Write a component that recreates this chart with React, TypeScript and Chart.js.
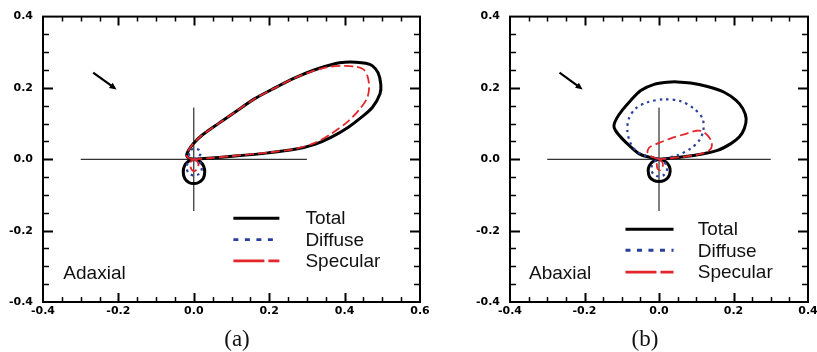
import React, { useEffect, useRef } from "react";
import { Chart, registerables } from "chart.js";

Chart.register(...registerables);

type P = [number, number];

// ---------- tick values ----------
const xTicksA = [-0.4, -0.2, 0, 0.2, 0.4, 0.6];
const xTicksB = [-0.4, -0.2, 0, 0.2, 0.4];
const yTicks = [-0.4, -0.2, 0, 0.2, 0.4];
const seriesNames = ["Total", "Diffuse", "Specular"];
const panelLabels = ["Adaxial", "Abaxial"];
const captions = ["(a)", "(b)"];

// ---------- (a) Adaxial ----------
const adaxialTotalLobe: P[] = [
  [0, 0], [-0.012, 0.003], [-0.019, 0.011], [-0.013, 0.027], [-0.002, 0.043], [0.02, 0.066],
  [0.065, 0.1], [0.109, 0.132], [0.162, 0.17], [0.215, 0.2], [0.268, 0.228], [0.321, 0.251],
  [0.374, 0.268], [0.401, 0.272], [0.43, 0.272], [0.456, 0.269], [0.474, 0.262], [0.489, 0.242],
  [0.496, 0.21], [0.494, 0.184], [0.474, 0.146], [0.445, 0.118], [0.41, 0.09], [0.365, 0.062],
  [0.321, 0.042], [0.268, 0.028], [0.197, 0.018], [0.109, 0.009], [0.038, 0.003], [0, 0],
];
const adaxialTotalLoop: P[] = [
  [0, 0], [0.016, -0.006], [0.026, -0.019], [0.029, -0.036], [0.025, -0.054], [0.013, -0.065],
  [0, -0.068], [-0.013, -0.065], [-0.024, -0.054], [-0.028, -0.036], [-0.025, -0.019], [-0.015, -0.006], [0, 0],
];
const adaxialDiffuseUp: P[] = [
  [0, 0], [0.012, 0.006], [0.018, 0.016], [0.014, 0.026], [0.004, 0.03], [-0.007, 0.027],
  [-0.013, 0.018], [-0.01, 0.007], [0, 0],
];
const adaxialDiffuseLow: P[] = [
  [0, 0], [0.014, -0.006], [0.021, -0.02], [0.019, -0.035], [0.009, -0.044], [-0.003, -0.045],
  [-0.014, -0.038], [-0.019, -0.024], [-0.015, -0.009], [0, 0],
];
const adaxialSpecularLobe: P[] = [
  [0, 0], [-0.012, 0.003], [-0.019, 0.011], [-0.013, 0.027], [-0.002, 0.043], [0.02, 0.066],
  [0.065, 0.1], [0.109, 0.132], [0.162, 0.17], [0.215, 0.2], [0.268, 0.228], [0.321, 0.249],
  [0.357, 0.259], [0.392, 0.262], [0.427, 0.26], [0.45, 0.252], [0.461, 0.232], [0.465, 0.202],
  [0.46, 0.172], [0.441, 0.142], [0.41, 0.107], [0.365, 0.072], [0.321, 0.046], [0.268, 0.029],
  [0.197, 0.019], [0.109, 0.01], [0.038, 0.003], [0, 0],
];
const adaxialSpecularLoop: P[] = [
  [0, 0], [0.01, -0.007], [0.012, -0.019], [0.005, -0.031], [-0.002, -0.033], [-0.009, -0.021],
  [-0.008, -0.007], [0, 0],
];

// ---------- (b) Abaxial ----------
const abaxialTotalLobe: P[] = [
  [0, 0], [-0.031, 0.007], [-0.054, 0.016], [-0.076, 0.035], [-0.099, 0.058], [-0.117, 0.081],
  [-0.121, 0.095], [-0.114, 0.114], [-0.099, 0.137], [-0.076, 0.165], [-0.049, 0.193], [-0.013, 0.21],
  [0.022, 0.216], [0.049, 0.217], [0.085, 0.214], [0.13, 0.204], [0.175, 0.188], [0.207, 0.165],
  [0.225, 0.142], [0.234, 0.114], [0.229, 0.086], [0.216, 0.063], [0.193, 0.044], [0.157, 0.025],
  [0.112, 0.014], [0.067, 0.007], [0.022, 0.002], [0, 0],
];
const abaxialTotalLoop: P[] = [
  [0, 0], [0.017, -0.006], [0.027, -0.018], [0.03, -0.033], [0.025, -0.05], [0.013, -0.06],
  [0, -0.062], [-0.013, -0.06], [-0.025, -0.05], [-0.029, -0.033], [-0.026, -0.018], [-0.016, -0.006], [0, 0],
];
const abaxialDiffuseUp: P[] = [
  [0, 0], [-0.013, 0.005], [-0.04, 0.011], [-0.063, 0.025], [-0.078, 0.049], [-0.085, 0.081],
  [-0.081, 0.114], [-0.063, 0.142], [-0.031, 0.16], [0.013, 0.168], [0.058, 0.163], [0.094, 0.142],
  [0.117, 0.114], [0.119, 0.081], [0.108, 0.053], [0.085, 0.03], [0.049, 0.011], [0.013, 0.002], [0, 0],
];
const abaxialDiffuseLow: P[] = [
  [0, 0], [0.013, -0.006], [0.02, -0.018], [0.021, -0.032], [0.013, -0.044], [0, -0.048],
  [-0.013, -0.044], [-0.02, -0.032], [-0.019, -0.018], [-0.012, -0.006], [0, 0],
];
const abaxialSpecularLobe: P[] = [
  [0, 0], [-0.02, 0.008], [-0.031, 0.02], [-0.025, 0.034], [0.0, 0.046], [0.03, 0.058],
  [0.067, 0.07], [0.1, 0.08], [0.115, 0.079], [0.132, 0.065], [0.142, 0.046], [0.137, 0.027],
  [0.112, 0.015], [0.067, 0.007], [0.022, 0.002], [0, 0],
];
const abaxialSpecularLoop: P[] = [
  [0, 0], [0.009, -0.008], [0.01, -0.02], [0.004, -0.03], [-0.003, -0.028], [-0.006, -0.015],
  [-0.004, -0.005], [0, 0],
];

// ---------- reference lines & incidence arrow ----------
const crossH: P[] = [[-0.3, 0], [0.3, 0]];
const crossV: P[] = [[0, -0.145], [0, 0.145]];
const incidenceArrow: P[] = [[-0.267, 0.243], [-0.205, 0.196]];

// ---------- styles ----------
const STYLE: Record<string, { color: string; width: number; dash: number[]; legendDash: number[]; legendWidth: number }> = {
  Total: { color: "#000000", width: 3, dash: [], legendDash: [], legendWidth: 3 },
  Diffuse: { color: "#2a3f9d", width: 2.2, dash: [2.5, 4], legendDash: [5, 6.5], legendWidth: 2.8 },
  Specular: { color: "#e3262b", width: 1.8, dash: [9, 4], legendDash: [31, 4], legendWidth: 2.8 },
};

const FONT_SANS = '"Liberation Sans", Arial, Helvetica, sans-serif';

function seg(points: P[], name: string, order: number) {
  const s = STYLE[name];
  return {
    label: name,
    data: points.map(([x, y]) => ({ x, y })),
    showLine: true,
    pointRadius: 0,
    borderColor: s.color,
    backgroundColor: s.color,
    borderWidth: s.width,
    borderDash: s.dash,
    borderCapStyle: "butt",
    borderJoinStyle: "round",
    tension: 0.3,
    fill: false,
    order,
  };
}

function refLine(points: P[]) {
  return {
    label: "ref",
    data: points.map(([x, y]) => ({ x, y })),
    showLine: true,
    pointRadius: 0,
    borderColor: "#000",
    borderWidth: 1,
    tension: 0,
    fill: false,
    order: 10,
  };
}

const decoPlugin = {
  id: "paperDeco",
  afterDatasetsDraw(chart: any, _args: any, opts: any) {
    const { ctx, chartArea } = chart;
    const { left, right, top, bottom } = chartArea;
    const xs = chart.scales.x;
    const ys = chart.scales.y;
    ctx.save();

    // incidence arrow
    const [a0, a1] = opts.arrow as P[];
    const x0 = xs.getPixelForValue(a0[0]);
    const y0 = ys.getPixelForValue(a0[1]);
    const x1 = xs.getPixelForValue(a1[0]);
    const y1 = ys.getPixelForValue(a1[1]);
    const ang = Math.atan2(y1 - y0, x1 - x0);
    const hl = 7;
    const hw = 3.2;
    ctx.strokeStyle = "#000";
    ctx.fillStyle = "#000";
    ctx.lineWidth = 2.2;
    ctx.setLineDash([]);
    ctx.beginPath();
    ctx.moveTo(x0, y0);
    ctx.lineTo(x1 - Math.cos(ang) * hl * 0.8, y1 - Math.sin(ang) * hl * 0.8);
    ctx.stroke();
    ctx.beginPath();
    ctx.moveTo(x1, y1);
    ctx.lineTo(x1 - Math.cos(ang) * hl - Math.sin(ang) * hw, y1 - Math.sin(ang) * hl + Math.cos(ang) * hw);
    ctx.lineTo(x1 - Math.cos(ang) * hl + Math.sin(ang) * hw, y1 - Math.sin(ang) * hl - Math.cos(ang) * hw);
    ctx.closePath();
    ctx.fill();

    // frame
    ctx.lineWidth = 2;
    ctx.strokeRect(left, top, right - left, bottom - top);

    // inward ticks on all four sides
    const step = 0.05;
    const nx = Math.round((xs.max - xs.min) / step);
    for (let i = 1; i < nx; i++) {
      const v = xs.min + i * step;
      const px = Math.round(xs.getPixelForValue(v)) + 0.5;
      const major = i % 4 === 0;
      const len = major ? 9 : 5;
      ctx.lineWidth = major ? 2 : 1.5;
      ctx.beginPath();
      ctx.moveTo(px, bottom);
      ctx.lineTo(px, bottom - len);
      ctx.moveTo(px, top);
      ctx.lineTo(px, top + len);
      ctx.stroke();
    }
    const ny = Math.round((ys.max - ys.min) / step);
    for (let i = 1; i < ny; i++) {
      const v = ys.min + i * step;
      const py = Math.round(ys.getPixelForValue(v)) + 0.5;
      const major = i % 4 === 0;
      const len = major ? 10 : 6;
      ctx.lineWidth = major ? 2 : 1.5;
      ctx.beginPath();
      ctx.moveTo(left, py);
      ctx.lineTo(left + len, py);
      ctx.moveTo(right, py);
      ctx.lineTo(right - len, py);
      ctx.stroke();
    }

    // panel label
    ctx.font = `19px ${FONT_SANS}`;
    ctx.fillStyle = "#111";
    ctx.textBaseline = "middle";
    ctx.textAlign = "left";
    ctx.fillText(opts.label, xs.getPixelForValue(opts.labelAt[0]), ys.getPixelForValue(opts.labelAt[1]));

    // legend
    const lx0 = xs.getPixelForValue(opts.legendX[0]);
    const lx1 = xs.getPixelForValue(opts.legendX[1]);
    const tx = xs.getPixelForValue(opts.legendX[2]);
    seriesNames.forEach((name, i) => {
      const s = STYLE[name];
      const py = ys.getPixelForValue(opts.legendY[i]);
      ctx.strokeStyle = s.color;
      ctx.lineWidth = s.legendWidth;
      ctx.setLineDash(s.legendDash);
      ctx.beginPath();
      ctx.moveTo(lx0, py);
      ctx.lineTo(lx1, py);
      ctx.stroke();
      ctx.setLineDash([]);
      ctx.fillStyle = "#111";
      ctx.fillText(name, tx, py + 1);
    });

    ctx.restore();
  },
};

type PanelCfg = {
  left: number;
  width: number;
  yAxisWidth: number;
  padRight: number;
  xMin: number;
  xMax: number;
  xTicks: number[];
  datasets: any[];
  label: string;
  labelAt: P;
  legendX: number[];
  legendY: number[];
};

const tickFont = { family: '"DejaVu Sans", Verdana, sans-serif', size: 11, weight: "bold" as const };

function Panel({ cfg }: { cfg: PanelCfg }) {
  const ref = useRef<HTMLCanvasElement | null>(null);
  useEffect(() => {
    if (!ref.current) return;
    const chart = new Chart(ref.current, {
      type: "scatter",
      data: { datasets: cfg.datasets },
      plugins: [decoPlugin as any],
      options: {
        animation: false,
        responsive: false,
        events: [],
        layout: { padding: { top: 16, right: cfg.padRight, bottom: 0, left: 0 } },
        plugins: {
          legend: { display: false },
          tooltip: { enabled: false },
          paperDeco: {
            arrow: incidenceArrow,
            label: cfg.label,
            labelAt: cfg.labelAt,
            legendX: cfg.legendX,
            legendY: cfg.legendY,
          },
        } as any,
        scales: {
          x: {
            type: "linear",
            min: cfg.xMin,
            max: cfg.xMax,
            afterBuildTicks: (s: any) => {
              s.ticks = cfg.xTicks.map((v) => ({ value: v }));
            },
            afterFit: (s: any) => {
              s.height = 50;
            },
            ticks: {
              callback: (v: any) => Number(v).toFixed(1),
              font: tickFont,
              color: "#000",
              padding: 3,
              maxRotation: 0,
              autoSkip: false,
            },
            grid: { display: false, drawTicks: false },
            border: { display: false },
          },
          y: {
            type: "linear",
            min: -0.4,
            max: 0.4,
            afterBuildTicks: (s: any) => {
              s.ticks = yTicks.map((v) => ({ value: v }));
            },
            afterFit: (s: any) => {
              s.width = cfg.yAxisWidth;
            },
            ticks: {
              callback: (v: any) => Number(v).toFixed(1),
              font: tickFont,
              color: "#000",
              padding: 10,
              autoSkip: false,
            },
            grid: { display: false, drawTicks: false },
            border: { display: false },
          },
        },
      } as any,
    });
    return () => chart.destroy();
  }, [cfg]);
  return (
    <canvas
      ref={ref}
      width={cfg.width}
      height={352}
      style={{ position: "absolute", left: cfg.left, top: 0, width: cfg.width, height: 352 }}
    />
  );
}

const panelA: PanelCfg = {
  left: 0,
  width: 440,
  yAxisWidth: 43,
  padRight: 20,
  xMin: -0.4,
  xMax: 0.6,
  xTicks: xTicksA,
  datasets: [
    seg(adaxialSpecularLobe, "Specular", 1),
    seg(adaxialSpecularLoop, "Specular", 1),
    seg(adaxialDiffuseUp, "Diffuse", 2),
    seg(adaxialDiffuseLow, "Diffuse", 2),
    seg(adaxialTotalLobe, "Total", 3),
    seg(adaxialTotalLoop, "Total", 3),
    refLine(crossH),
    refLine(crossV),
  ],
  label: panelLabels[0],
  labelAt: [-0.346, -0.322],
  legendX: [0.105, 0.227, 0.296],
  legendY: [-0.165, -0.225, -0.285],
};

const panelB: PanelCfg = {
  left: 440,
  width: 400,
  yAxisWidth: 70,
  padRight: 32,
  xMin: -0.4,
  xMax: 0.4,
  xTicks: xTicksB,
  datasets: [
    seg(abaxialSpecularLobe, "Specular", 1),
    seg(abaxialSpecularLoop, "Specular", 1),
    seg(abaxialDiffuseUp, "Diffuse", 2),
    seg(abaxialDiffuseLow, "Diffuse", 2),
    seg(abaxialTotalLobe, "Total", 3),
    seg(abaxialTotalLoop, "Total", 3),
    refLine(crossH),
    refLine(crossV),
  ],
  label: panelLabels[1],
  labelAt: [-0.349, -0.322],
  legendX: [-0.09, 0.039, 0.104],
  legendY: [-0.196, -0.255, -0.316],
};

const captionStyle: React.CSSProperties = {
  position: "absolute",
  top: 338,
  transform: "translate(-50%, -50%)",
  fontFamily: '"Liberation Serif", "Times New Roman", serif',
  fontSize: 23,
  color: "#111",
  lineHeight: 1,
  whiteSpace: "nowrap",
};

export default function App() {
  return (
    <div
      style={{
        position: "absolute",
        left: 0,
        top: 0,
        width: 817,
        height: 352,
        overflow: "hidden",
        background: "#fff",
      }}
    >
      <Panel cfg={panelA} />
      <Panel cfg={panelB} />
      <div style={{ ...captionStyle, left: 237 }}>{captions[0]}</div>
      <div style={{ ...captionStyle, left: 645 }}>{captions[1]}</div>
    </div>
  );
}
